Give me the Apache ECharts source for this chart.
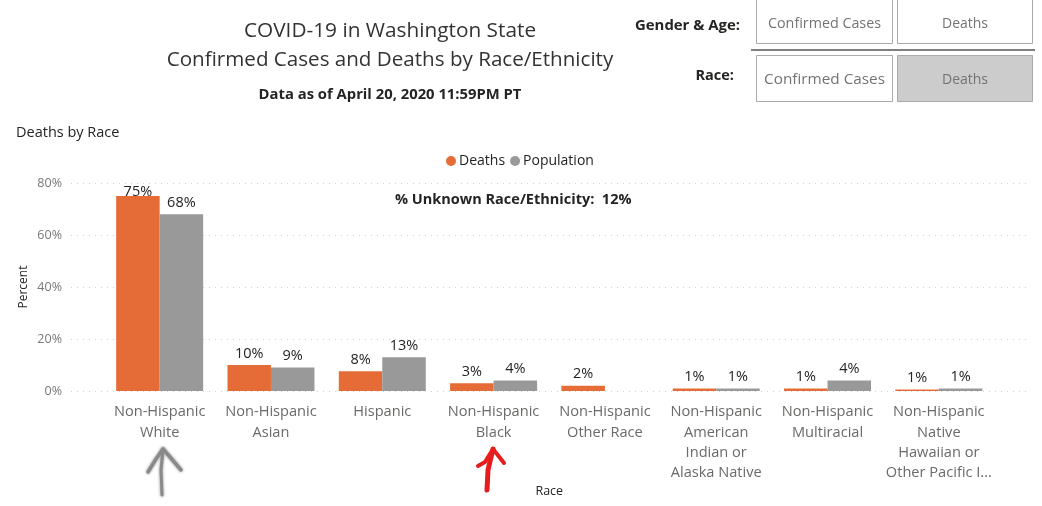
<!DOCTYPE html>
<html>
<head>
<meta charset="utf-8">
<title>COVID-19 in Washington State</title>
<script src="https://cdn.jsdelivr.net/npm/echarts@6/dist/echarts.min.js"></script>
<style>
  html, body { margin: 0; padding: 0; background: #fff; }
  #chart { width: 1042px; height: 506px; }
</style>
</head>
<body>
<div id="chart"></div>
<script>
const categories = [
  'Non-Hispanic\nWhite',
  'Non-Hispanic\nAsian',
  'Hispanic',
  'Non-Hispanic\nBlack',
  'Non-Hispanic\nOther Race',
  'Non-Hispanic\nAmerican\nIndian or\nAlaska Native',
  'Non-Hispanic\nMultiracial',
  'Non-Hispanic\nNative\nHawaiian or\nOther Pacific I...'
];
const deaths = [75, 10, 7.6, 3, 2, 1, 1, 0.6];
const population = [68, 9, 13, 4, null, 1, 4, 1];
const yTicks = { min: 0, max: 80, interval: 20 };

const FONT = '"Open Sans", "Noto Sans", sans-serif';
const INK = '#252423';
const MUTED = '#6b6a68';

function pct(p) { return Math.round(p.value) + '%'; }

function barLabel() {
  return { show: true, position: 'top', distance: 4, fontFamily: FONT, fontSize: 14.5, color: INK, formatter: pct };
}

function text(x, y, str, size, opts) {
  return {
    type: 'text', x: x, y: y, silent: true,
    style: Object.assign({
      text: str, fontFamily: FONT, fontSize: size, fill: INK,
      align: 'center', verticalAlign: 'middle'
    }, opts || {})
  };
}

function button(x, y, w, h, label, size, fill, textY) {
  return [
    { type: 'rect', shape: { x: x, y: y, width: w, height: h }, silent: true,
      style: { fill: fill || '#fff', stroke: '#aaaaaa', lineWidth: 1 } },
    text(x + w / 2, textY, label, size, { fill: '#737373' })
  ];
}

function stroke(points, color, width, blur) {
  return {
    type: 'polyline', silent: true, shape: { points: points },
    style: { fill: null, stroke: color, lineWidth: width, lineCap: 'round', lineJoin: 'round',
      shadowBlur: blur || 0, shadowColor: color }
  };
}

const graphics = [
  text(390, 31, 'COVID-19 in Washington State', 20.8, { fill: '#333' }),
  text(390, 60, 'Confirmed Cases and Deaths by Race/Ethnicity', 20.6, { fill: '#333' }),
  text(390, 95, 'Data as of April 20, 2020 11:59PM PT', 14.8, { fontWeight: 'bold' }),
  text(16, 133, 'Deaths by Race', 14.5, { align: 'left' }),
  text(395, 200, '% Unknown Race/Ethnicity:  12%', 14.5, { align: 'left', fontWeight: 'bold' }),
  text(740, 26, 'Gender & Age:', 14.9, { align: 'right', fontWeight: 'bold' }),
  text(734, 76, 'Race:', 14.5, { align: 'right', fontWeight: 'bold' }),
  { type: 'line', silent: true, shape: { x1: 751, y1: 50, x2: 1035, y2: 50 }, style: { stroke: '#808080', lineWidth: 2 } }
].concat(
  button(756.5, -2.5, 136, 46, 'Confirmed Cases', 14.3, null, 23.5),
  button(897.5, -2.5, 135, 46, 'Deaths', 14, null, 24),
  button(756.5, 55.5, 136, 46, 'Confirmed Cases', 15.3, null, 80),
  button(897.5, 55.5, 135, 46, 'Deaths', 14, '#cccccc', 80),
  [
    // hand drawn arrows on top of the chart
    stroke([[162, 495], [161, 470], [163, 449]], '#8a8a8a', 3, 3),
    stroke([[148, 472], [156, 459], [163, 449], [170, 457], [181, 470]], '#8a8a8a', 3.5, 3),
    stroke([[487, 490], [488, 470], [493, 449]], '#e81c1c', 5),
    stroke([[478, 466], [485, 462], [493, 449], [504, 463]], '#e81c1c', 4)
  ]
);

const chart = echarts.init(document.getElementById('chart'));
chart.setOption({
  animation: false,
  color: ['#e66c37', '#999999'],
  textStyle: { fontFamily: FONT },
  legend: {
    left: 441, top: 149, icon: 'circle', itemWidth: 10, itemHeight: 10, itemGap: 5,
    textStyle: { fontFamily: FONT, fontSize: 14, color: INK, padding: [0, 0, 0, -2] },
    data: ['Deaths', 'Population']
  },
  grid: [
    { left: 71, top: 183, width: 959, height: 208 },   // wide grid, only for the gridlines
    { left: 104, top: 183, width: 890.5, height: 208 }
  ],
  xAxis: [
    { gridIndex: 0, type: 'category', data: [], show: false },
    {
      gridIndex: 1, type: 'category', data: categories,
      name: 'Race', nameLocation: 'middle', nameGap: 94,
      nameTextStyle: { fontFamily: FONT, fontSize: 12.5, color: INK },
      axisLine: { show: false }, axisTick: { show: false },
      axisLabel: { interval: 0, margin: 11, fontFamily: FONT, fontSize: 14.6, lineHeight: 20.3, color: MUTED, hideOverlap: false }
    }
  ],
  yAxis: [
    {
      gridIndex: 0, type: 'value', min: yTicks.min, max: yTicks.max, interval: yTicks.interval,
      name: 'Percent', nameLocation: 'middle', nameGap: 41, nameRotate: 90, nameMoveOverlap: false,
      nameTextStyle: { fontFamily: FONT, fontSize: 12, color: INK },
      axisLine: { show: false }, axisTick: { show: false },
      axisLabel: { formatter: '{value}%', margin: 9, fontFamily: FONT, fontSize: 12.5, color: '#777777' },
      splitLine: { show: true, lineStyle: { type: [1, 5], color: '#cfcfcf', width: 1 } }
    },
    { gridIndex: 1, type: 'value', min: yTicks.min, max: yTicks.max, interval: yTicks.interval, show: false }
  ],
  series: [
    {
      name: 'Deaths', type: 'bar', xAxisIndex: 1, yAxisIndex: 1, barWidth: 43.5, barGap: 0,
      label: barLabel(),
      // the 75% label sits against the bar in the original
      data: deaths.map(function (v, i) {
        return i === 0 ? { value: v, label: { distance: -3 } } : v;
      })
    },
    {
      name: 'Population', type: 'bar', xAxisIndex: 1, yAxisIndex: 1, barWidth: 43.5, barGap: 0,
      label: barLabel(),
      data: population
    }
  ],
  graphic: graphics
});
</script>
</body>
</html>
